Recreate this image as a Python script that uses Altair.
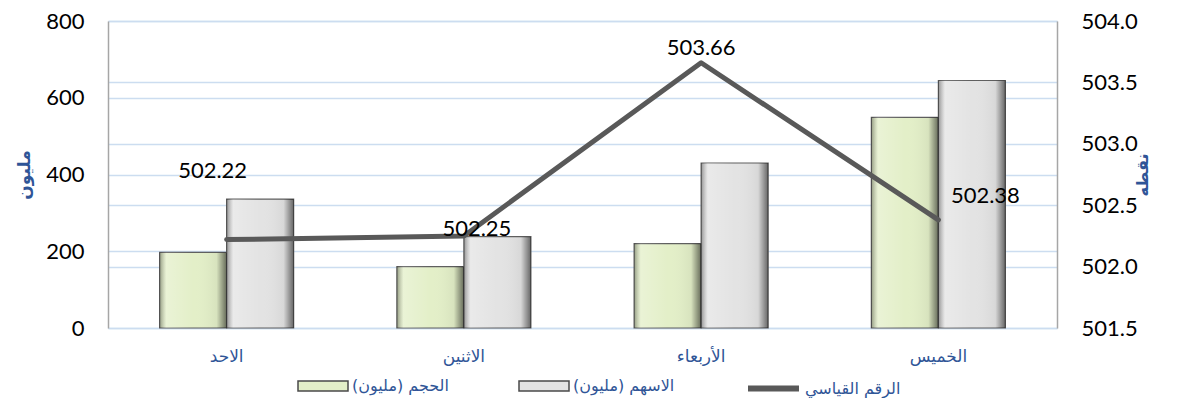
import altair as alt
import pandas as pd

days = ["الاحد", "الاثنين", "الأربعاء", "الخميس"]
volume = [197, 160, 220, 549]
shares = [336, 238, 430, 645]
index_vals = [502.22, 502.25, 503.66, 502.38]
bar_series = ["الحجم (مليون)", "الاسهم (مليون)"]
line_series = ["الرقم القياسي"]
left_ticks = [0, 200, 400, 600, 800]
right_ticks = [501.5, 502.0, 502.5, 503.0, 503.5, 504.0]

bars_df = pd.DataFrame({
    "day": days * 2,
    "series": [bar_series[0]] * len(days) + [bar_series[1]] * len(days),
    "value": volume + shares,
})
line_df = pd.DataFrame({
    "day": days,
    "index": index_vals,
    "series": line_series * len(days),
    "label": [f"{v:.2f}" for v in index_vals],
})

W, H = 949, 307
AR_FONT = "DejaVu Sans"
NUM_FONT = "Lato"
BLUE = "#2F5597"
GRID = "#CCDDF0"

x_enc = alt.X(
    "day:N",
    scale=alt.Scale(domain=days, paddingInner=0.435, paddingOuter=0.2175),
    axis=alt.Axis(title=None, labelAngle=0, domain=False, ticks=False, grid=False,
                  labelPadding=20, labelFont=AR_FONT, labelFontSize=17, labelColor=BLUE),
)
xoff_enc = alt.XOffset("series:N", scale=alt.Scale(domain=bar_series, paddingInner=0, paddingOuter=0))
y_left = alt.Y(
    "value:Q",
    scale=alt.Scale(domain=[0, 800], nice=False),
    axis=alt.Axis(values=left_ticks, title="مليون", titleAngle=270, titleFont=AR_FONT,
                  titleFontSize=17, titleFontWeight="bold", titleColor=BLUE, titlePadding=12,
                  labelFont=NUM_FONT, labelFontSize=22, labelColor="black", labelPadding=24,
                  ticks=False, domainColor="#A6A6A6", domainWidth=1.5,
                  grid=True, gridColor=GRID, gridWidth=1.5),
)
y_right = alt.Y(
    "index:Q",
    scale=alt.Scale(domain=[501.5, 504.0], nice=False, zero=False),
    axis=alt.Axis(orient="right", values=right_ticks, format=".1f", title="نقطه", titleAngle=270,
                  titleFont=AR_FONT, titleFontSize=16, titleFontWeight="bold", titleColor=BLUE,
                  titlePadding=13, labelFont=NUM_FONT, labelFontSize=22, labelColor="black",
                  labelPadding=24, ticks=False, domainColor="#A6A6A6", domainWidth=1.5,
                  grid=True, gridColor=GRID, gridWidth=1.5),
)

bars = alt.Chart(bars_df).mark_bar(stroke="#5f5f5f", strokeWidth=1.2).encode(
    x=x_enc,
    xOffset=xoff_enc,
    y=y_left,
    color=alt.Color(
        "series:N",
        scale=alt.Scale(domain=bar_series, range=["#E3EFC8", "#E3E3E3"]),
        legend=alt.Legend(orient="none", legendX=189, legendY=339, direction="horizontal",
                          title=None, symbolType="M-1,-0.2H1V0.2H-1Z", symbolSize=2500,
                          symbolStrokeColor="#4a4a4a", symbolStrokeWidth=1.5, symbolOpacity=1,
                          labelFont=AR_FONT, labelFontSize=16, labelColor=BLUE,
                          labelOffset=3, columnPadding=67, padding=0),
    ),
)

shade = alt.Chart(bars_df).mark_bar(
    fill=alt.Gradient(
        gradient="linear", x1=0, x2=1, y1=0, y2=0,
        stops=[
            alt.GradientStop(color="rgba(0,0,0,0.35)", offset=0),
            alt.GradientStop(color="rgba(255,255,255,0.25)", offset=0.1),
            alt.GradientStop(color="rgba(255,255,255,0)", offset=0.5),
            alt.GradientStop(color="rgba(0,0,0,0.05)", offset=0.85),
            alt.GradientStop(color="rgba(0,0,0,0.55)", offset=1),
        ],
    ),
    strokeWidth=0,
).encode(x=x_enc, xOffset=xoff_enc, y=y_left)

line = alt.Chart(line_df).mark_line(strokeWidth=5, strokeCap="round", strokeJoin="round").encode(
    x=x_enc,
    y=y_right,
    stroke=alt.Stroke(
        "series:N",
        scale=alt.Scale(domain=line_series, range=["#595959"]),
        legend=alt.Legend(orient="none", legendX=637, legendY=339, title=None,
                          symbolType="stroke", symbolSize=2600, symbolStrokeWidth=6,
                          labelFont=AR_FONT, labelFontSize=16, labelColor=BLUE,
                          labelOffset=3, padding=0),
    ),
)

label_offsets = [(-14, -69), (13, -7), (0, -15), (47, -24)]
texts = []
for d, (dx, dy) in zip(days, label_offsets):
    texts.append(
        alt.Chart(line_df).transform_filter(alt.datum.day == d)
        .mark_text(font=NUM_FONT, fontSize=22, color="black", dx=dx, dy=dy)
        .encode(x=x_enc, y=y_right, text="label:N")
    )

left_layer = alt.layer(bars, shade)
right_layer = alt.layer(line, *texts)

chart = (
    alt.layer(left_layer, right_layer)
    .resolve_scale(y="independent", color="independent")
    .properties(width=W, height=H, padding={"left": 100, "top": 13, "right": 114, "bottom": 70},
                autosize=alt.AutoSizeParams(type="none"))
    .configure_view(stroke=None)
)

chart.save("out.html", embed_options={"renderer": "svg", "actions": False})
